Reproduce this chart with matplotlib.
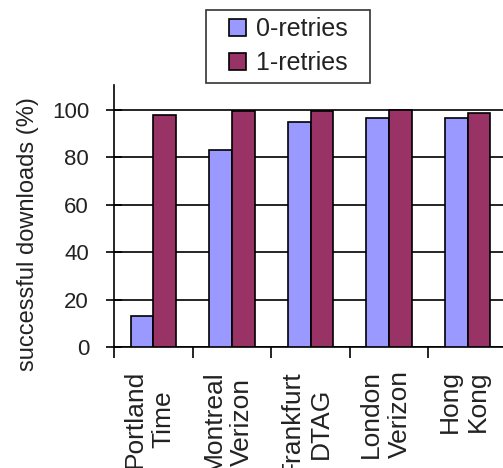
import matplotlib
matplotlib.use('Agg')
import matplotlib.pyplot as plt
from matplotlib.patches import Rectangle
from matplotlib.container import BarContainer
from matplotlib.legend_handler import HandlerPatch, update_from_first_child
import numpy as np

plt.rcParams['font.family'] = ['Liberation Sans', 'DejaVu Sans']

SITES = ['Portland\nTime', 'Montreal\nVerizon', 'Frankfurt\nDTAG', 'London\nVerizon', 'Hong\nKong']
RETRY0 = [13, 83, 95, 96.5, 96.5]
RETRY1 = [98, 99.5, 99.5, 100, 98.6]
YTICKS = [0, 20, 40, 60, 80, 100]

BLUE = '#9999FF'
PLUM = '#993366'
INK = '#222222'


def small_square(legend, orig_handle, xdescent, ydescent, width, height, fontsize):
    # fixed-size swatch pushed to the right end of the handle slot
    s = 0.95 * height
    return Rectangle((-xdescent + width - s, -ydescent + (height - s) / 2), s, s)


fig = plt.figure(figsize=(5.03, 4.68), dpi=100)
# axes run off the right edge of the figure on purpose
ax = fig.add_axes([114 / 503, 1 - 347 / 468, 393 / 503, 262 / 468])

x = np.arange(len(SITES)) + 0.5
w = 0.29
ax.bar(x - w / 2, RETRY0, w, color=BLUE, edgecolor='black', linewidth=1.2, label='0-retries', zorder=3)
ax.bar(x + w / 2, RETRY1, w, color=PLUM, edgecolor='black', linewidth=1.2, label='1-retries', zorder=3)

ax.set_xlim(0, len(SITES))
ax.set_ylim(0, 110.5)
ax.set_yticks(YTICKS)
ax.set_yticklabels([str(t) for t in YTICKS], fontsize=16, color=INK)
ax.yaxis.grid(True, color='black', linewidth=1.2, zorder=0)
ax.tick_params(axis='y', direction='inout', length=12, width=1.2, pad=12)

ax.set_xticks(np.arange(len(SITES)))
ax.set_xticklabels([])
ax.tick_params(axis='x', direction='out', length=8, width=1.2)

for xi, lab in zip(x, SITES):
    ax.text(xi - 0.05, -9.8, lab, rotation=90, ha='center', va='top',
            multialignment='center', fontsize=19, linespacing=1.25,
            color=INK, transform=ax.transData, clip_on=False)

for side in ['top', 'right']:
    ax.spines[side].set_visible(False)
ax.spines['left'].set_linewidth(1.2)
ax.spines['bottom'].set_linewidth(1.2)

fig.text(28 / 503, 1 - 234 / 468, 'successful downloads (%)', rotation=90,
         ha='center', va='center', fontsize=17, color=INK)

square_handler = HandlerPatch(patch_func=small_square, update_func=update_from_first_child)
leg = fig.legend(loc='center', bbox_to_anchor=(288 / 503, 1 - 46 / 468),
                 fontsize=18, frameon=True, fancybox=False, edgecolor='black',
                 handlelength=1.3, handleheight=0.75, handletextpad=0.4,
                 borderpad=0.3, labelspacing=0.4, borderaxespad=0,
                 handler_map={BarContainer: square_handler})
leg.get_frame().set_linewidth(1.2)
for t in leg.get_texts():
    t.set_color(INK)
    t.set_text(t.get_text() + '  ')

fig.savefig('out.png', dpi=100)
